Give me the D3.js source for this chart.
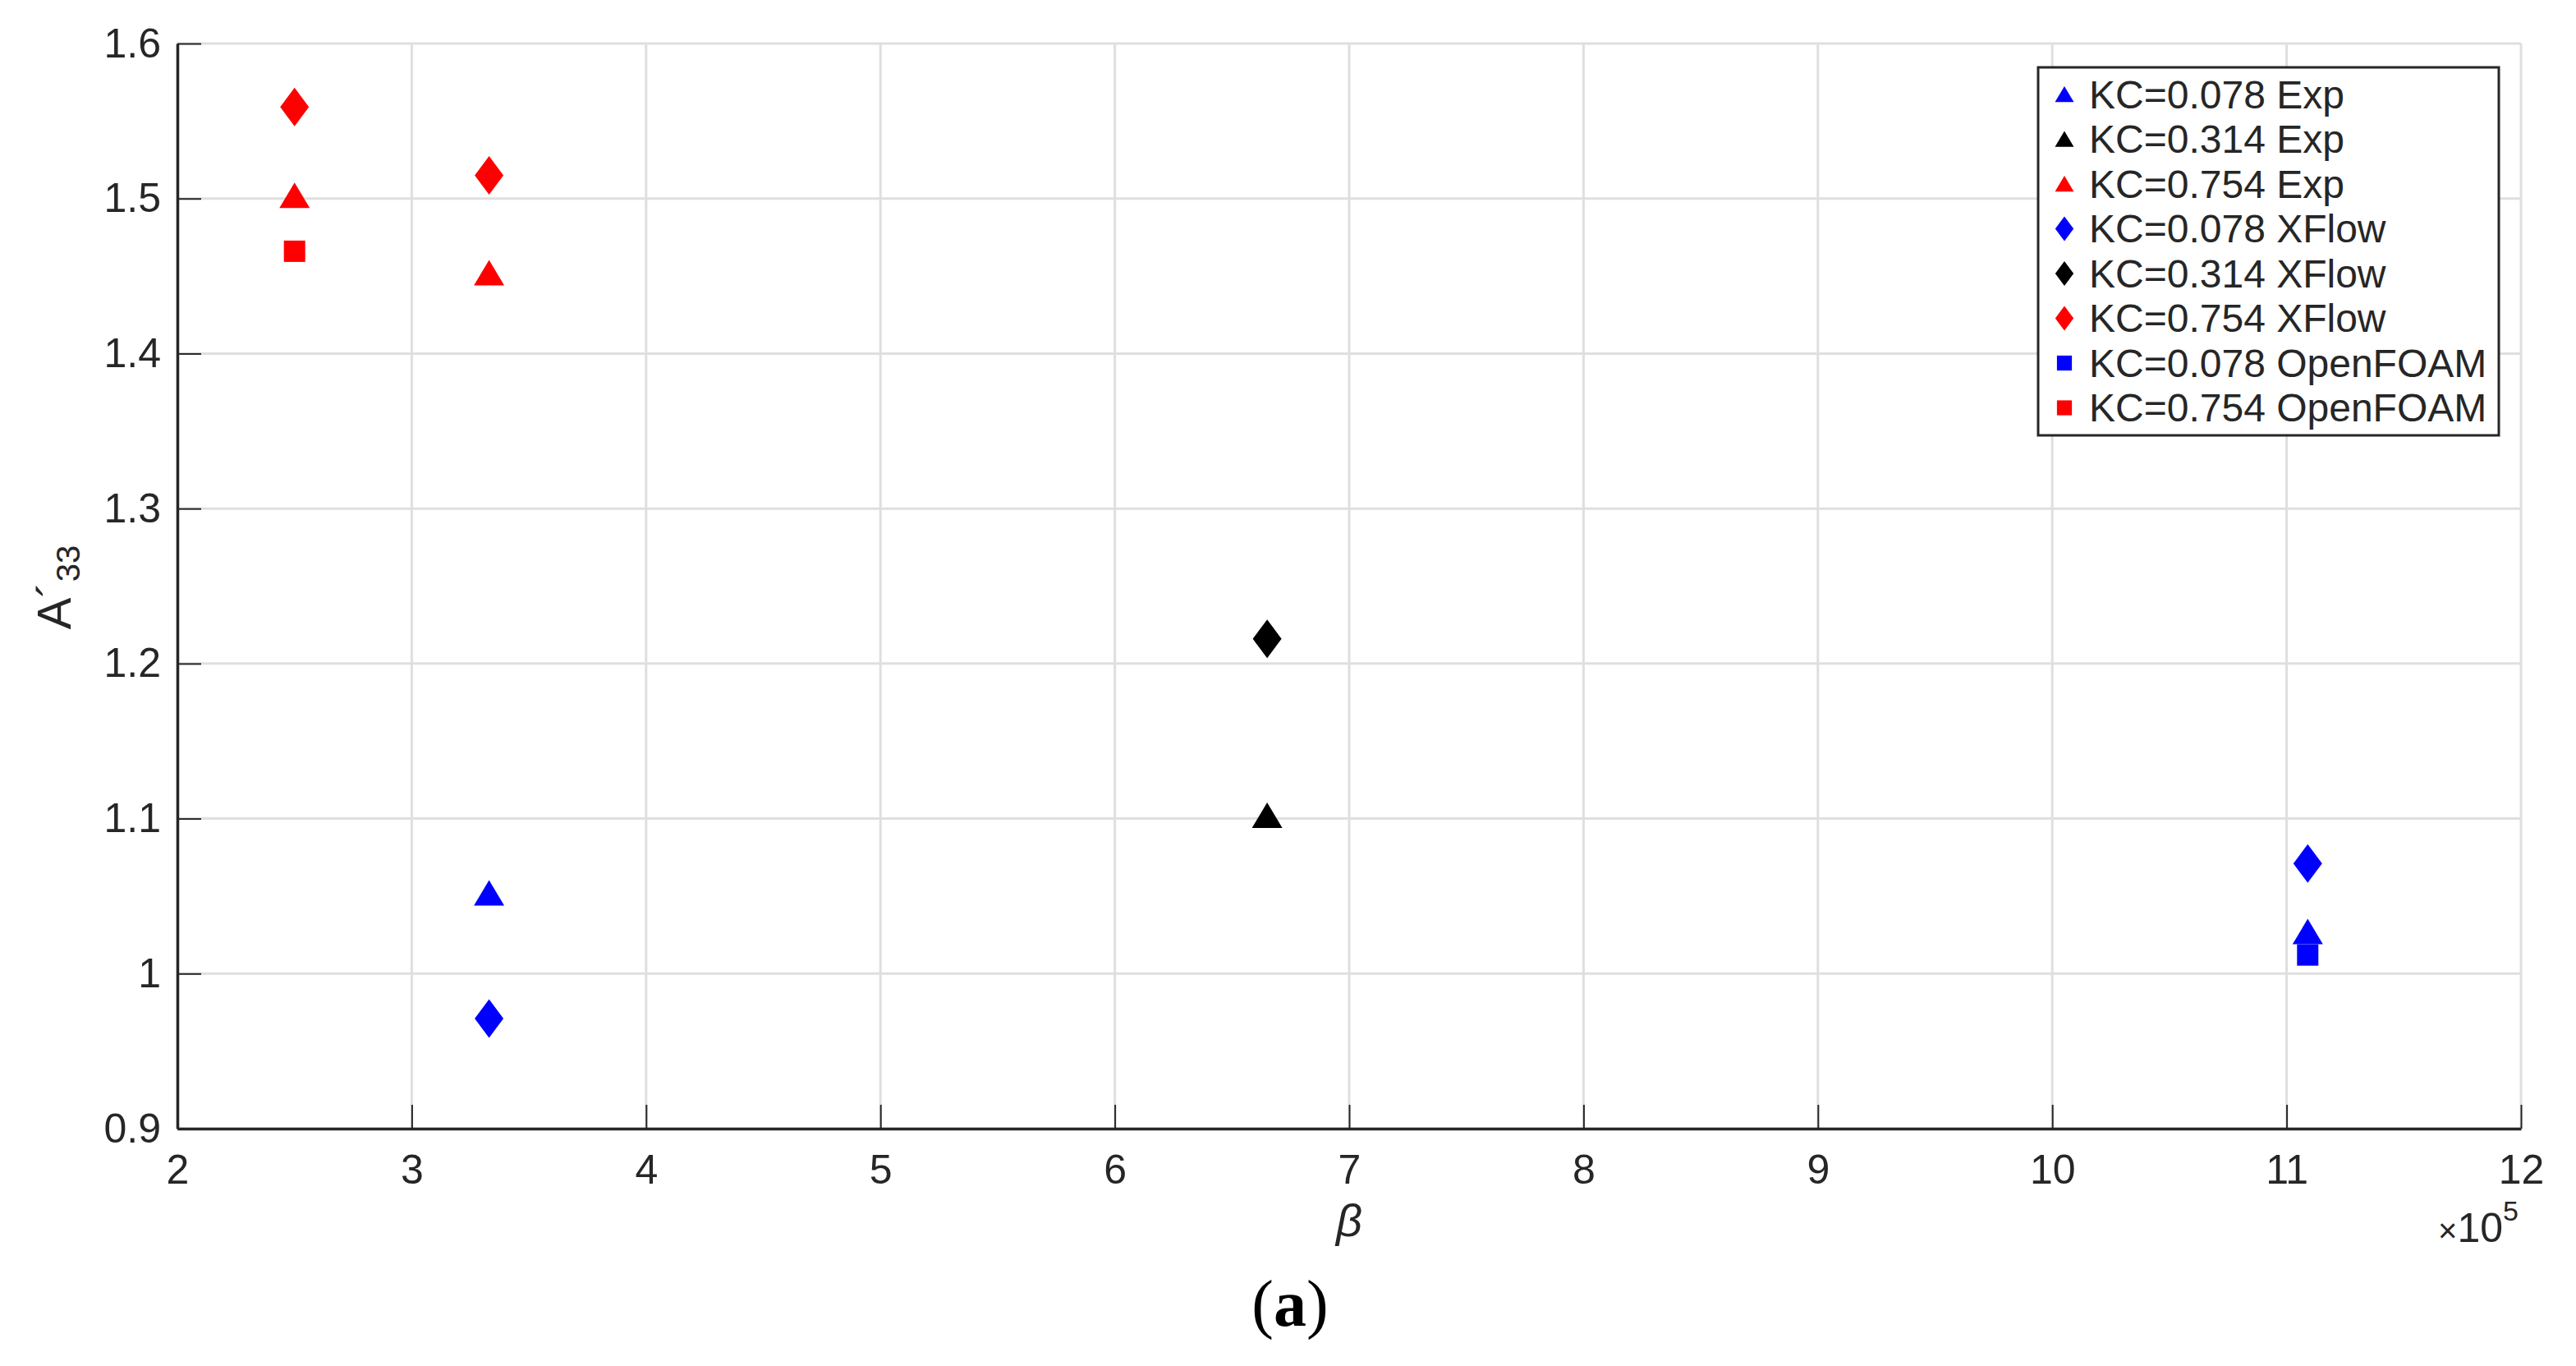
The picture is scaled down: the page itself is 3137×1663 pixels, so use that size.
<!DOCTYPE html>
<html>
<head>
<meta charset="utf-8">
<script src="https://cdn.jsdelivr.net/npm/d3@7"></script>
<style>
  html, body { margin: 0; padding: 0; background: #fff; }
  svg { display: block; }
</style>
</head>
<body>
<svg id="chart" width="3137" height="1663"></svg>
<script>
// ---- data ----
const seriesNames = [
  "KC=0.078 Exp", "KC=0.314 Exp", "KC=0.754 Exp",
  "KC=0.078 XFlow", "KC=0.314 XFlow", "KC=0.754 XFlow",
  "KC=0.078 OpenFOAM", "KC=0.754 OpenFOAM"
];
const seriesColors = ["#0000ff", "#000000", "#ff0000", "#0000ff", "#000000", "#ff0000", "#0000ff", "#ff0000"];
const seriesShapes = ["triangle", "triangle", "triangle", "diamond", "diamond", "diamond", "square", "square"];
// beta (x 10^5) values per series
const seriesBeta = [
  [3.33, 11.09],
  [6.65],
  [2.5, 3.33],
  [3.33, 11.09],
  [6.65],
  [2.5, 3.33],
  [11.09],
  [2.5]
];
// A'33 values per series
const seriesA33 = [
  [1.050, 1.025],
  [1.100],
  [1.500, 1.450],
  [0.971, 1.071],
  [1.216],
  [1.559, 1.515],
  [1.012],
  [1.466]
];
const xTicks = [2, 3, 4, 5, 6, 7, 8, 9, 10, 11, 12];
const yTicks = [0.9, 1.0, 1.1, 1.2, 1.3, 1.4, 1.5, 1.6];
const xDomain = [2, 12];
const yDomain = [0.9, 1.6];

// ---- layout ----
const svg = d3.select("#chart");
const W = 3137, H = 1663;
const L = 216, R = 3070, T = 53, B = 1374;
const textColor = "#262626";
const fontFam = "'Liberation Sans', Arial, Helvetica, sans-serif";

svg.append("rect").attr("width", W).attr("height", H).attr("fill", "#fff");

const x = d3.scaleLinear().domain(xDomain).range([L, R]);
const y = d3.scaleLinear().domain(yDomain).range([B, T]);

// grid
const grid = svg.append("g");
grid.selectAll("line.gx").data(xTicks).join("line")
  .attr("x1", d => x(d)).attr("x2", d => x(d))
  .attr("y1", T).attr("y2", B)
  .attr("stroke", "#dfdfdf").attr("stroke-width", 3);
grid.selectAll("line.gy").data(yTicks).join("line")
  .attr("y1", d => y(d)).attr("y2", d => y(d))
  .attr("x1", L).attr("x2", R)
  .attr("stroke", "#dfdfdf").attr("stroke-width", 3);

// axes
const xAxis = svg.append("g").attr("transform", `translate(0,${B})`)
  .call(d3.axisBottom(x).tickValues(xTicks).tickFormat(d3.format("d"))
    .tickSizeInner(-29).tickSizeOuter(0).tickPadding(31));
const yAxis = svg.append("g").attr("transform", `translate(${L},0)`)
  .call(d3.axisLeft(y).tickValues(yTicks).tickFormat(d => d === 1 ? "1" : d3.format(".1f")(d))
    .tickSizeInner(-29).tickSizeOuter(0).tickPadding(20));

[xAxis, yAxis].forEach(g => {
  g.select(".domain").attr("stroke", textColor).attr("stroke-width", 3.5);
  g.selectAll(".tick line").attr("stroke", textColor).attr("stroke-width", 2);
  g.selectAll(".tick text").attr("fill", textColor)
    .attr("font-family", fontFam).attr("font-size", 50);
});

// marker shapes
function markerPath(shape, s) {
  if (shape === "triangle") {
    const w = 37 * s, top = -19.5 * s, bot = 11.5 * s;
    return `M0,${top}L${w / 2},${bot}L${-w / 2},${bot}Z`;
  }
  if (shape === "diamond") {
    const w = 35 * s, h = 47 * s;
    return `M0,${-h / 2}L${w / 2},0L0,${h / 2}L${-w / 2},0Z`;
  }
  const a = 26 * s;
  return `M${-a / 2},${-a / 2}h${a}v${a}h${-a}Z`;
}

// points
const points = [];
seriesNames.forEach((name, i) => {
  seriesBeta[i].forEach((b, j) => {
    points.push({ i, beta: b, val: seriesA33[i][j] });
  });
});
svg.append("g").selectAll("path").data(points).join("path")
  .attr("transform", d => `translate(${x(d.beta)},${y(d.val)})`)
  .attr("d", d => markerPath(seriesShapes[d.i], 1))
  .attr("fill", d => seriesColors[d.i]);

// axis labels
svg.append("text")
  .attr("x", (L + R) / 2).attr("y", 1505)
  .attr("text-anchor", "middle")
  .attr("font-family", fontFam).attr("font-size", 56).attr("font-style", "italic")
  .attr("fill", textColor).text("β");

const yl = svg.append("text")
  .attr("transform", "translate(86,715) rotate(-90)")
  .attr("text-anchor", "middle")
  .attr("font-family", fontFam).attr("font-size", 58)
  .attr("fill", textColor);
yl.append("tspan").text("A");
yl.append("tspan").text("´");
yl.append("tspan").attr("font-size", 40).attr("dy", 11).text("33");

const ex = svg.append("text")
  .attr("x", 3067).attr("y", 1512)
  .attr("text-anchor", "end")
  .attr("font-family", fontFam).attr("fill", textColor);
ex.append("tspan").attr("font-size", 40).text("×");
ex.append("tspan").attr("font-size", 50).text("10");
ex.append("tspan").attr("font-size", 34).attr("dy", -26).text("5");

// caption
svg.append("text")
  .attr("x", 1571).attr("y", 1614)
  .attr("text-anchor", "middle")
  .attr("font-family", "'Liberation Serif', 'Times New Roman', serif")
  .attr("font-size", 80).attr("fill", "#000")
  .html('(<tspan font-weight="bold">a</tspan>)');

// legend
const lg = svg.append("g");
lg.append("rect").attr("x", 2482).attr("y", 82).attr("width", 561).attr("height", 448)
  .attr("fill", "#fff").attr("stroke", textColor).attr("stroke-width", 3);
const rows = lg.selectAll("g.row").data(seriesNames).join("g")
  .attr("transform", (d, i) => `translate(0,${115 + i * 54.5})`);
rows.append("path")
  .attr("transform", (d, i) => `translate(2514,${seriesShapes[i] === "triangle" ? 2 : 0})`)
  .attr("d", (d, i) => seriesShapes[i] === "triangle" ? markerPath("triangle", 0.62)
        : seriesShapes[i] === "diamond" ? markerPath("diamond", 0.64) : markerPath("square", 0.7))
  .attr("fill", (d, i) => seriesColors[i]);
rows.append("text")
  .attr("x", 2544).attr("y", 0).attr("dy", "0.35em")
  .attr("font-family", fontFam).attr("font-size", 48)
  .attr("fill", textColor).text(d => d);
</script>
</body>
</html>
